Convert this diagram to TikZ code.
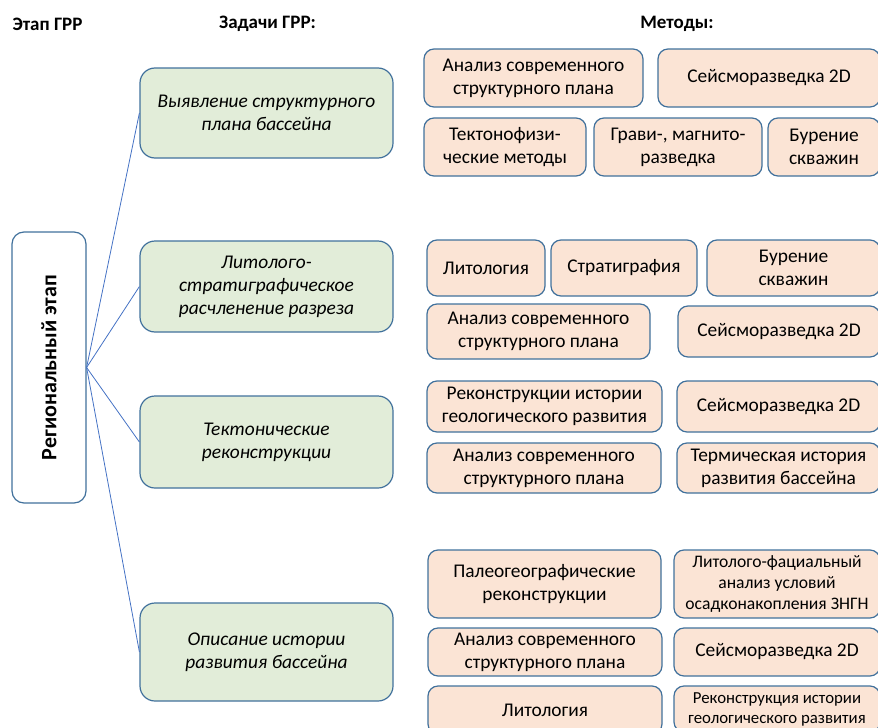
\documentclass[tikz,border=0pt]{standalone}
\usepackage{fontspec}
\setmainfont{Carlito}
\usetikzlibrary{positioning}

\definecolor{edgeblue}{HTML}{41719C}
\definecolor{linkblue}{HTML}{4472C4}
\definecolor{taskgreen}{HTML}{E2EDD9}
\definecolor{methpeach}{HTML}{FBE4D5}

\newcommand{\headfont}{\fontsize{19}{22}\selectfont\bfseries}
\newcommand{\methfont}{\fontsize{19.4}{23}\selectfont}
\newcommand{\methsmall}{\fontsize{17.6}{21}\selectfont}

\tikzset{
  stagebox/.style={draw=edgeblue,line width=1.2pt,fill=white,rounded corners=12pt,inner sep=0pt,font=\fontsize{22}{26}\selectfont\bfseries},
  taskbox/.style={draw=edgeblue,line width=1.2pt,fill=taskgreen,rounded corners=15pt,align=center,inner sep=0pt,font=\methfont\itshape},
  methbox/.style={draw=edgeblue,line width=1.2pt,fill=methpeach,rounded corners=10pt,align=center,inner sep=0pt,font=\methfont},
  link/.style={draw=linkblue,line width=0.8pt}
}

\begin{document}
\begin{tikzpicture}[x=1pt,y=-1pt]
\useasboundingbox (0,0) rectangle (878,728);
\clip (0,0) rectangle (878,728);

% Column headers
\node[font=\headfont] (h1) at (47.5,24) {Этап ГРР};
\node[font=\headfont] (h2) at (267.5,24) {Задачи ГРР:};
\node[font=\headfont] (h3) at (677,24) {Методы:};

% Stage
\node[stagebox,rotate=90,minimum width=271,minimum height=74] (stage) at (49,367.5) {Региональный этап};

% Tasks
\node[taskbox,minimum width=253,minimum height=90] (t1) at (266.5,113) {Выявление структурного\\плана бассейна};
\node[taskbox,minimum width=253,minimum height=91] (t2) at (266.5,286.5) {Литолого-\\стратиграфическое\\расчленение разреза};
\node[taskbox,minimum width=253,minimum height=92] (t3) at (266.5,442) {Тектонические\\реконструкции};
\node[taskbox,minimum width=253,minimum height=98] (t4) at (266.5,652) {Описание истории\\развития бассейна};

% Links stage -> tasks
\foreach \t in {t1,t2,t3,t4}
  \draw[link] (stage.south) -- (\t.west);

% Methods for task 1
\node[methbox,minimum width=219,minimum height=58] (m1a) at (533.5,78) {Анализ современного\\структурного плана};
\node[methbox,minimum width=222,minimum height=58] (m1b) at (769,78) {Сейсморазведка 2D};
\node[methbox,minimum width=162,minimum height=58] (m1c) at (505,147) {Тектонофизи-\\ческие методы};
\node[methbox,minimum width=168,minimum height=58] (m1d) at (678,147) {Грави-, магнито-\\разведка};
\node[methbox,minimum width=112,minimum height=58] (m1e) at (824,147) {Бурение\\скважин};

% Methods for task 2
\node[methbox,minimum width=118,minimum height=56] (m2a) at (486,268) {Литология};
\node[methbox,minimum width=146,minimum height=56] (m2b) at (624,268) {Стратиграфия};
\node[methbox,minimum width=173,minimum height=56] (m2c) at (793.5,268) {Бурение\\скважин};
\node[methbox,minimum width=223,minimum height=55] (m2d) at (538.5,331.5) {Анализ современного\\структурного плана};
\node[methbox,minimum width=202,minimum height=51] (m2e) at (779,331.5) {Сейсморазведка 2D};

% Methods for task 3
\node[methbox,minimum width=235,minimum height=51] (m3a) at (544.5,406.5) {Реконструкции истории\\геологического развития};
\node[methbox,minimum width=203,minimum height=51] (m3b) at (778.5,406.5) {Сейсморазведка 2D};
\node[methbox,minimum width=234,minimum height=50] (m3c) at (544,468) {Анализ современного\\структурного плана};
\node[methbox,minimum width=203,minimum height=50] (m3d) at (778.5,468) {Термическая история\\развития бассейна};

% Methods for task 4
\node[methbox,minimum width=233,minimum height=68] (m4a) at (544.5,584) {Палеогеографические\\реконструкции};
\node[methbox,minimum width=206,minimum height=68,font=\methsmall] (m4b) at (777,584) {Литолого-фациальный\\анализ условий\\осадконакопления ЗНГН};
\node[methbox,minimum width=234,minimum height=48] (m4c) at (545,652) {Анализ современного\\структурного плана};
\node[methbox,minimum width=206,minimum height=48] (m4d) at (777,652) {Сейсморазведка 2D};
\node[methbox,minimum width=234,minimum height=48] (m4e) at (545,710) {Литология};
\node[methbox,minimum width=206,minimum height=46,font=\fontsize{16.8}{20}\selectfont] (m4f) at (777,709) {Реконструкция истории\\геологического развития};

\end{tikzpicture}
\end{document}
